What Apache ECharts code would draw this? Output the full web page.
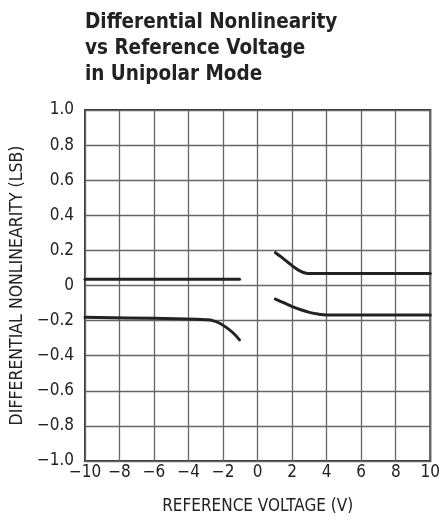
<!DOCTYPE html>
<html>
<head>
<meta charset="utf-8">
<script src="https://cdn.jsdelivr.net/npm/echarts@6/dist/echarts.min.js"></script>
<style>
html,body{margin:0;padding:0;background:#fff;}
#c{width:443px;height:521px;}
</style>
</head>
<body>
<div id="c"></div>
<script>
var titleText = 'Differential Nonlinearity\nvs Reference Voltage\nin Unipolar Mode';
var xAxisName = 'REFERENCE VOLTAGE (V)';
var yAxisName = 'DIFFERENTIAL NONLINEARITY (LSB)';

var upperLeftX = [-10, -1.05];
var upperLeftY = [0.035, 0.035];

var lowerLeftX = [-10, -6, -3.5, -3.0, -2.6, -2.2, -1.8, -1.4, -1.05];
var lowerLeftY = [-0.181, -0.187, -0.192, -0.195, -0.200, -0.215, -0.240, -0.272, -0.31];

var upperRightX = [1.03, 1.4, 1.8, 2.2, 2.5, 2.8, 3.1, 10];
var upperRightY = [0.187, 0.160, 0.128, 0.098, 0.080, 0.070, 0.068, 0.068];

var lowerRightX = [1.03, 1.5, 2.0, 2.5, 3.0, 3.5, 4.0, 10];
var lowerRightY = [-0.077, -0.098, -0.120, -0.138, -0.153, -0.163, -0.168, -0.168];

function pairs(xs, ys){ return xs.map(function(x,i){ return [x, ys[i]]; }); }
function fmtY(v){
  if (Math.abs(v) < 1e-9) return '0';
  var s = Math.abs(v).toFixed(1);
  return (v < 0 ? '\u2212' : '') + s;
}
function fmtX(v){
  if (Math.abs(v) < 1e-9) return '0';
  return (v < 0 ? '\u2212' : '') + Math.abs(v);
}

var FONT = '"DejaVu Sans Condensed", "Liberation Sans", sans-serif';
var lineStyle = {color:'#222', width:3, cap:'round', join:'round'};

function mk(xs, ys){
  return {type:'line', data:pairs(xs, ys), showSymbol:false, smooth:0.35, lineStyle:lineStyle, silent:true, z:5};
}

var chart = echarts.init(document.getElementById('c'), null, {renderer:'canvas'});
chart.setOption({
  animation:false,
  backgroundColor:'#fff',
  title:{
    text:titleText, left:80, top:5,
    textStyle:{fontFamily:FONT, fontSize:20.5, fontWeight:'bold', color:'#222', lineHeight:26}
  },
  grid:{left:83, right:9, top:110, bottom:60, show:true, borderColor:'#333', borderWidth:2, containLabel:false},
  xAxis:{
    type:'value', min:-10, max:10, interval:2,
    name:xAxisName, nameLocation:'middle', nameGap:37,
    nameTextStyle:{fontFamily:FONT, fontSize:17, color:'#222'},
    axisLine:{show:false}, axisTick:{show:false},
    axisLabel:{formatter:fmtX, fontFamily:FONT, fontSize:17, color:'#222', margin:3},
    splitLine:{show:true, lineStyle:{color:'#666', width:1.3}}
  },
  yAxis:{
    type:'value', min:-1, max:1, interval:0.2,
    name:yAxisName, nameLocation:'middle', nameGap:51, nameRotate:90,
    nameTextStyle:{fontFamily:FONT, fontSize:17.5, color:'#222'},
    axisLine:{show:false}, axisTick:{show:false},
    axisLabel:{formatter:fmtY, fontFamily:FONT, fontSize:17, color:'#222', margin:11},
    splitLine:{show:true, lineStyle:{color:'#666', width:1.3}}
  },
  series:[
    mk(upperLeftX, upperLeftY),
    mk(lowerLeftX, lowerLeftY),
    mk(upperRightX, upperRightY),
    mk(lowerRightX, lowerRightY)
  ]
});
</script>
</body>
</html>
